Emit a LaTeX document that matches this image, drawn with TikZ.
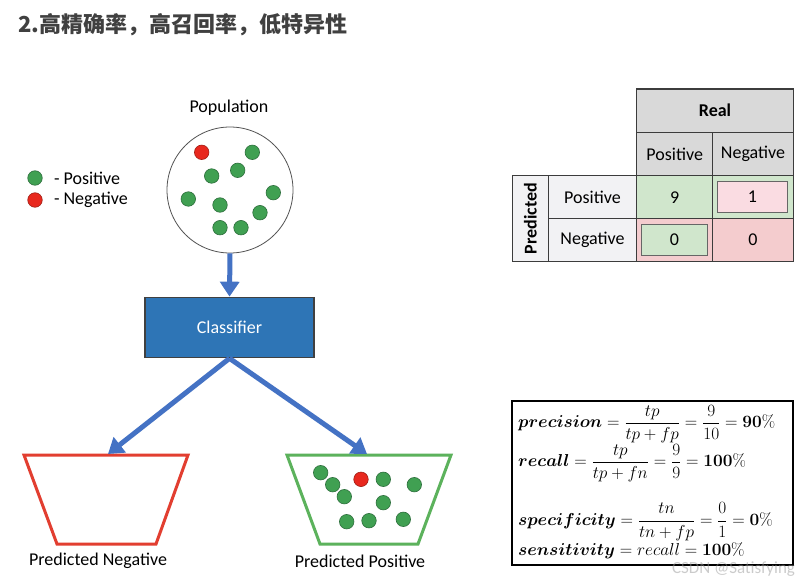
\documentclass[tikz,border=0pt]{standalone}
\usepackage{amsmath}
\usepackage[no-math]{fontspec}
\setmainfont{Carlito}
\newfontfamily\cjkfont{Noto Sans CJK SC}
\usetikzlibrary{arrows.meta}
\definecolor{titlegray}{RGB}{64,64,64}
\definecolor{dotgreen}{RGB}{64,160,82}
\definecolor{dotgreenD}{RGB}{45,110,60}
\definecolor{dotred}{RGB}{232,40,30}
\definecolor{dotredD}{RGB}{160,30,20}
\definecolor{arrblue}{RGB}{68,114,196}
\definecolor{clsblue}{RGB}{46,117,182}
\definecolor{edgegray}{RGB}{64,64,64}
\definecolor{trapred}{RGB}{226,62,48}
\definecolor{trapgreen}{RGB}{92,178,92}
\definecolor{hdrgray}{RGB}{217,217,217}
\definecolor{lblgray}{RGB}{242,242,244}
\definecolor{cellgreen}{RGB}{208,230,204}
\definecolor{cellpink}{RGB}{244,204,206}
\definecolor{boxpink}{RGB}{250,220,226}
\definecolor{linegray}{RGB}{60,60,60}
\tikzset{
  gdot/.style={circle,fill=dotgreen,draw=dotgreenD,line width=0.6pt,minimum size=14.5pt,inner sep=0pt},
  rdot/.style={circle,fill=dotred,draw=dotredD,line width=0.6pt,minimum size=14.5pt,inner sep=0pt},
  txt/.style={inner sep=0pt,outer sep=0pt},
  barrow/.style={draw=arrblue,line width=5pt,-{Triangle[width=19pt,length=15pt]}},
  tcell/.style={draw=linegray,line width=1.3pt,inner sep=0pt,outer sep=0pt},
  ibox/.style={draw=edgegray!80,line width=1pt,inner sep=0pt,outer sep=0pt},
  fml/.style={anchor=west,inner sep=0pt,font=\fontsize{16}{19}\selectfont},
}
\begin{document}
\begin{tikzpicture}[x=1pt,y=-1pt,font=\fontsize{18}{21}\selectfont]
\useasboundingbox[fill=white] (0,0) rectangle (809,586);

% title
\node[txt,anchor=west,text=titlegray,font=\cjkfont\bfseries\fontsize{22}{24}\selectfont] (title) at (18,25) {2.高精确率，高召回率，低特异性};

% legend
\node[gdot] (lgg) at (35,178) {};
\node[rdot] (lgr) at (35,200) {};
\node[txt,anchor=west] (lggt) at (54,178) {- Positive};
\node[txt,anchor=west] (lgrt) at (54,200) {- Negative};

% population
\node[txt] (poplbl) at (229,108) {Population};
\node[circle,draw=edgegray!90,line width=0.8pt,minimum size=126pt,inner sep=0pt] (pop) at (230,190) {};
\node[rdot] (d1) at (201.7,152.3) {};
\node[gdot] (d2) at (252.3,152.3) {};
\node[gdot] (d3) at (211.7,176) {};
\node[gdot] (d4) at (237.7,170.3) {};
\node[gdot] (d5) at (188.3,199) {};
\node[gdot] (d6) at (273.3,192.7) {};
\node[gdot] (d7) at (220,205) {};
\node[gdot] (d8) at (260,212.7) {};
\node[gdot] (d9) at (220,227.7) {};
\node[gdot] (d10) at (241,227.7) {};

% classifier
\node[fill=clsblue,draw=edgegray,line width=1.3pt,minimum width=169pt,minimum height=60.4pt,inner sep=0pt,text=white] (cls) at (229.5,327.5) {Classifier};

\draw[barrow] (pop.south) -- (cls.north);

% trapezoids
\draw[trapred,line width=3pt,line join=miter] (24,455) -- (188,455) -- (156,544) -- (57,544) -- cycle;
\draw[trapgreen,line width=3pt,line join=miter] (287,455) -- (451,455) -- (418,544) -- (320,544) -- cycle;
\coordinate (negtop) at (108,454);
\coordinate (postop) at (367,454);
\draw[barrow] (cls.south) -- (negtop);
\draw[barrow] (cls.south) -- (postop);

\node[txt] (negl) at (98,561) {Predicted Negative};
\node[txt] (posl) at (360,561) {Predicted Positive};

% predicted positive dots
\node[gdot] (e1) at (320.7,472.7) {};
\node[gdot] (e2) at (332.7,484.7) {};
\node[rdot] (e3) at (361,479.3) {};
\node[gdot] (e4) at (383.3,479.3) {};
\node[gdot] (e5) at (414.3,484.7) {};
\node[gdot] (e6) at (344.3,496.7) {};
\node[gdot] (e7) at (383.3,502.7) {};
\node[gdot] (e8) at (346.7,521.7) {};
\node[gdot] (e9) at (369,520.7) {};
\node[gdot] (e10) at (403.3,519.3) {};

% confusion table
\node[tcell,fill=hdrgray,minimum width=156.6pt,minimum height=43.3pt] (real) at (715,110.7) {\bfseries Real};
\node[tcell,fill=hdrgray,minimum width=76pt,minimum height=43.4pt] (hpos) at (674.7,154) {Positive};
\node[tcell,fill=hdrgray,minimum width=80.6pt,minimum height=43.4pt] (hneg) at (753,154) {Negative};
\node[tcell,fill=lblgray,minimum width=36pt,minimum height=86pt] (pred) at (530.3,218.7) {\rotatebox{90}{\bfseries Predicted}};
\node[tcell,fill=lblgray,minimum width=88.4pt,minimum height=43pt] (rpos) at (592.5,197.2) {Positive};
\node[tcell,fill=lblgray,minimum width=88.4pt,minimum height=43pt] (rneg) at (592.5,240.2) {Negative};
\node[tcell,fill=cellgreen,minimum width=76pt,minimum height=43pt] (c11) at (674.7,197.2) {9};
\node[tcell,fill=cellgreen,minimum width=80.6pt,minimum height=43pt] (c12) at (753,197.2) {};
\node[tcell,fill=cellpink,minimum width=76pt,minimum height=43pt] (c21) at (674.7,240.2) {};
\node[tcell,fill=cellpink,minimum width=80.6pt,minimum height=43pt] (c22) at (753,240.2) {0};
\node[ibox,fill=boxpink,minimum width=70.4pt,minimum height=31pt] (b12) at (752.5,197.2) {1};
\node[ibox,fill=cellgreen,minimum width=66.7pt,minimum height=30.7pt] (b21) at (674.4,239.7) {0};

% formula box
\node[draw=black,line width=2pt,minimum width=281pt,minimum height=164pt,inner sep=0pt] (fbox) at (652.8,483) {};
\node[fml] (fprec) at (518,424) {$\boldsymbol{precision} = \dfrac{tp}{tp+fp} = \dfrac{9}{10} = \mathbf{90\%}$};
\node[fml] (frec) at (518,463) {$\boldsymbol{recall} = \dfrac{tp}{tp+fn} = \dfrac{9}{9} = \mathbf{100\%}$};
\node[fml] (fspec) at (518,521.5) {$\boldsymbol{specificity} = \dfrac{tn}{tn+fp} = \dfrac{0}{1} = \mathbf{0\%}$};
\node[fml,anchor=base west] (fsens) at (518,555) {$\boldsymbol{sensitivity} = recall = \mathbf{100\%}$};

% watermark
\node[txt,text=gray!80,opacity=0.5,anchor=east,font=\fontsize{17}{19}\selectfont] (wm) at (795,569) {CSDN @Satisfying};
\end{tikzpicture}
\end{document}
